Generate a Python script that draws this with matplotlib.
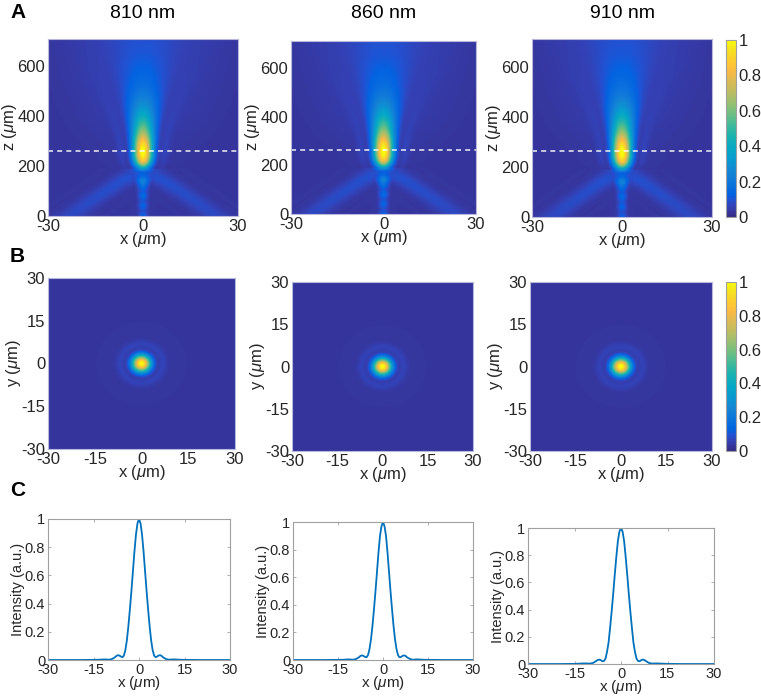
import numpy as np
import matplotlib
matplotlib.use("Agg")
import matplotlib.pyplot as plt
from matplotlib.colors import LinearSegmentedColormap

plt.rcParams['font.family'] = ['Liberation Sans', 'DejaVu Sans']
plt.rcParams['mathtext.fontset'] = 'custom'
plt.rcParams['mathtext.it'] = 'Liberation Sans:italic'
plt.rcParams['mathtext.rm'] = 'Liberation Sans'
plt.rcParams['axes.unicode_minus'] = False

# ---- data ----
wavelengths = ["810 nm", "860 nm", "910 nm"]

# lateral profile at the focus (panel C), half profile x >= 0
prof_x = [0, 0.5, 1, 1.5, 2, 2.5, 3, 3.5, 4, 4.5, 5, 5.5, 6, 6.5, 7, 7.5, 8, 9, 10, 11, 12, 13, 15, 20, 30]
prof_810 = [1.0, 0.97, 0.89, 0.77, 0.63, 0.49, 0.36, 0.24, 0.14, 0.07, 0.03, 0.02, 0.025, 0.032, 0.034,
            0.028, 0.018, 0.006, 0.002, 0.004, 0.004, 0.002, 0.001, 0.0, 0.0]
prof_860 = [1.0, 0.97, 0.90, 0.78, 0.64, 0.50, 0.37, 0.25, 0.15, 0.08, 0.035, 0.02, 0.022, 0.03, 0.033,
            0.03, 0.02, 0.007, 0.002, 0.004, 0.004, 0.002, 0.001, 0.0, 0.0]
prof_910 = [1.0, 0.975, 0.905, 0.79, 0.66, 0.52, 0.39, 0.27, 0.16, 0.09, 0.04, 0.022, 0.02, 0.028, 0.032,
            0.03, 0.022, 0.008, 0.003, 0.004, 0.004, 0.003, 0.001, 0.0, 0.0]
profiles = [prof_810, prof_860, prof_910]

# on-axis intensity and relative beam width along z (panel A)
z_axis = [0, 20, 40, 60, 80, 100, 120, 140, 160, 175, 190, 205, 220, 240, 255, 270, 290, 310,
          330, 350, 380, 410, 440, 480, 520, 560, 600, 650, 710]
amp_axis = [0.10, 0.06, 0.11, 0.07, 0.13, 0.08, 0.15, 0.22, 0.09, 0.05, 0.30, 0.60, 0.84, 0.96, 1.0, 0.98,
            0.90, 0.78, 0.66, 0.56, 0.44, 0.34, 0.26, 0.18, 0.13, 0.10, 0.08, 0.06, 0.05]
width_axis = [0.5, 0.5, 0.5, 0.5, 0.5, 0.55, 0.55, 0.6, 0.6, 0.7, 0.8, 0.9, 0.95, 1.0, 1.0, 1.02,
              1.05, 1.1, 1.15, 1.2, 1.3, 1.42, 1.55, 1.75, 1.95, 2.2, 2.45, 2.8, 3.2]

# diverging side arms below the focus
arm_z = [0, 50, 100, 150, 190]
arm_x = [23, 17.5, 11.5, 5.5, 1.5]
arm_amp = [0.045, 0.05, 0.055, 0.06, 0.04]

# faint cone above the focus
up_z = [260, 400, 550, 710]
up_x = [2, 5, 9, 12]
up_amp = [0.0, 0.02, 0.025, 0.025]

focus_z = 262
background = 0.03

# ---- colormap (parula) ----
parula = LinearSegmentedColormap.from_list("parula", [
    (0 / 63, (0.2081, 0.1663, 0.5292)),
    (2 / 63, (0.2123, 0.2138, 0.6270)),
    (4 / 63, (0.1959, 0.2645, 0.7279)),
    (6 / 63, (0.1253, 0.3242, 0.8303)),
    (8 / 63, (0.0117, 0.3875, 0.8820)),
    (12 / 63, (0.0498, 0.4586, 0.8641)),
    (16 / 63, (0.0793, 0.5200, 0.8312)),
    (20 / 63, (0.0343, 0.5966, 0.8199)),
    (24 / 63, (0.0228, 0.6535, 0.7768)),
    (28 / 63, (0.0843, 0.6928, 0.7062)),
    (32 / 63, (0.2178, 0.7250, 0.6193)),
    (36 / 63, (0.3953, 0.7459, 0.5244)),
    (40 / 63, (0.5709, 0.7485, 0.4494)),
    (44 / 63, (0.7184, 0.7411, 0.3905)),
    (48 / 63, (0.8507, 0.7299, 0.3360)),
    (52 / 63, (0.9739, 0.7314, 0.2666)),
    (54 / 63, (0.9990, 0.7653, 0.2164)),
    (57 / 63, (0.9789, 0.8271, 0.1633)),
    (60 / 63, (0.9589, 0.8949, 0.1132)),
    (63 / 63, (0.9763, 0.9831, 0.0538)),
])

W, H = 761, 697
fig = plt.figure(figsize=(W / 100, H / 100), dpi=100)
txt = '#262626'


def box(l, r, t, b):
    return [l / W, 1 - b / H, (r - l) / W, (b - t) / H]


def xz_map(prof):
    x = np.linspace(-30, 30, 361)
    z = np.linspace(0, 710, 430)
    X, Z = np.meshgrid(x, z)
    ax_ = np.abs(X)
    amp = np.interp(Z, z_axis, amp_axis)
    wid = np.interp(Z, z_axis, width_axis)
    img = amp * np.interp(ax_ / wid, prof_x, prof)
    c = np.interp(Z, arm_z, arm_x)
    a = np.interp(Z, arm_z, arm_amp, right=0.0)
    img += a * np.interp(np.abs(ax_ - c) / 1.6, prof_x, prof)
    c2 = np.interp(Z, up_z, up_x)
    a2 = np.interp(Z, up_z, up_amp, left=0.0)
    img += a2 * np.interp(np.abs(ax_ - c2) / 4.5, prof_x, prof)
    return np.clip(img + background, 0, 1)


def xy_map(prof):
    x = np.linspace(-30, 30, 301)
    X, Y = np.meshgrid(x, x)
    r = np.hypot(X, Y)
    return np.clip(np.interp(r, prof_x, prof) + background, 0, 1)


def style_img(ax):
    for s in ax.spines.values():
        s.set_color('#b8b8dc')
        s.set_linewidth(0.8)
    ax.tick_params(length=0, labelsize=12, colors=txt, pad=2)


A_boxes = [(48, 238, 39, 216), (291, 476, 41, 214), (532, 712, 39, 217)]
B_boxes = [(48, 235, 278, 449), (292, 473, 282, 451), (530, 712, 282, 451)]
C_boxes = [(48, 230, 519, 660), (293, 473, 522, 660), (528, 714, 528, 664)]

for i in range(3):
    prof = profiles[i]

    # row A
    ax = fig.add_axes(box(*A_boxes[i]))
    im = ax.imshow(xz_map(prof), extent=[-30, 30, 0, 710], origin='lower', aspect='auto',
                   cmap=parula, vmin=0, vmax=1, interpolation='bilinear')
    ax.axhline(focus_z, color='white', lw=1.2, ls=(0, (3, 2.5)), alpha=0.85)
    ax.set_xlim(-30, 30)
    ax.set_ylim(0, 710)
    ax.set_xticks([-30, 0, 30])
    ax.set_yticks([0, 200, 400, 600])
    ax.set_xlabel(r'x ($\mu$m)', fontsize=12, color=txt, labelpad=-3)
    ax.set_ylabel(r'z ($\mu$m)', fontsize=12, color=txt, labelpad=-1)
    style_img(ax)
    l, r, t, b = A_boxes[i]
    fig.text((l + r) / 2 / W, 1 - 13 / H, wavelengths[i], ha='center', va='center', fontsize=14, color='black')

    # row B
    ax = fig.add_axes(box(*B_boxes[i]))
    imb = ax.imshow(xy_map(prof), extent=[-30, 30, -30, 30], origin='lower', aspect='auto',
                    cmap=parula, vmin=0, vmax=1, interpolation='bilinear')
    ax.set_xticks([-30, -15, 0, 15, 30])
    ax.set_yticks([-30, -15, 0, 15, 30])
    ax.set_xlabel(r'x ($\mu$m)', fontsize=12, color=txt, labelpad=-3)
    ax.set_ylabel(r'y ($\mu$m)', fontsize=12, color=txt, labelpad=-1)
    style_img(ax)

    # row C
    ax = fig.add_axes(box(*C_boxes[i]))
    xs = np.concatenate([-np.array(prof_x[::-1]), np.array(prof_x[1:])])
    ys = np.concatenate([np.array(prof[::-1]), np.array(prof[1:])])
    ax.plot(xs, ys, color='#0072BD', lw=1.3)
    ax.set_xlim(-30, 30)
    ax.set_ylim(0, 1)
    ax.set_xticks([-30, -15, 0, 15, 30])
    ax.set_yticks([0, 0.2, 0.4, 0.6, 0.8, 1])
    ax.set_yticklabels(['0', '0.2', '0.4', '0.6', '0.8', '1'])
    ax.set_xlabel(r'x ($\mu$m)', fontsize=11, color=txt, labelpad=-2)
    ax.set_ylabel('Intensity (a.u.)', fontsize=10.5, color=txt, labelpad=0)
    for s in ax.spines.values():
        s.set_color('#a0a0a0')
        s.set_linewidth(0.8)
    ax.tick_params(direction='in', length=2.5, width=0.6, top=True, right=True,
                   colors='#a0a0a0', labelcolor=txt, labelsize=10.5, pad=2)

# colorbars
for cb_box, mappable in [((726, 736, 40, 217), im), ((726, 736, 282, 451), imb)]:
    cax = fig.add_axes(box(*cb_box))
    cb = fig.colorbar(mappable, cax=cax, ticks=[0, 0.2, 0.4, 0.6, 0.8, 1])
    cb.ax.set_yticklabels(['0', '0.2', '0.4', '0.6', '0.8', '1'])
    cb.outline.set_edgecolor('#a0a0a0')
    cb.outline.set_linewidth(0.8)
    cb.ax.tick_params(length=0, labelsize=12, colors=txt, pad=2)

# panel letters
fig.text(10 / W, 1 - 13 / H, 'A', fontsize=15, fontweight='bold', va='center')
fig.text(10 / W, 1 - 256 / H, 'B', fontsize=15, fontweight='bold', va='center')
fig.text(10 / W, 1 - 490 / H, 'C', fontsize=15, fontweight='bold', va='center')

fig.savefig('out.png', dpi=100)
